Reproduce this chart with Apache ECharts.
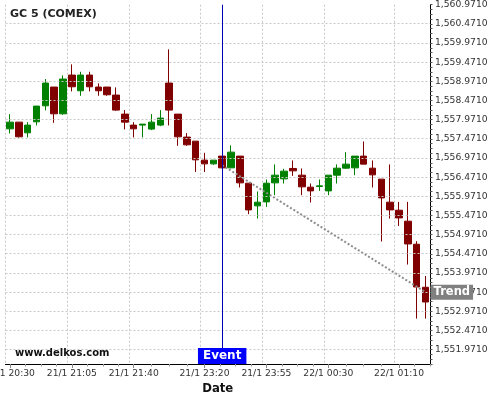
<!DOCTYPE html>
<html>
<head>
<meta charset="utf-8">
<script src="https://cdn.jsdelivr.net/npm/echarts@6/dist/echarts.min.js"></script>
<style>html,body{margin:0;padding:0;background:#fff}#c{width:500px;height:400px}</style>
</head>
<body>
<div id="c"></div>
<script>
// ---- data ----
const categories = [
  '21/1 20:30','21/1 20:35','21/1 20:40','21/1 20:45','21/1 20:50','21/1 20:55','21/1 21:00','21/1 21:05',
  '21/1 21:10','21/1 21:15','21/1 21:20','21/1 21:25','21/1 21:30','21/1 21:35','21/1 21:40','21/1 21:45',
  '21/1 21:50','21/1 21:55','21/1 23:00','21/1 23:05','21/1 23:10','21/1 23:15','21/1 23:20','21/1 23:25',
  '21/1 23:30','21/1 23:35','21/1 23:40','21/1 23:45','21/1 23:50','21/1 23:55','22/1 00:00','22/1 00:05',
  '22/1 00:10','22/1 00:15','22/1 00:20','22/1 00:25','22/1 00:30','22/1 00:35','22/1 00:40','22/1 00:45',
  '22/1 00:50','22/1 00:55','22/1 01:00','22/1 01:05','22/1 01:10','22/1 01:15','22/1 01:20','22/1 01:25'
];
const openV  = [1557.732,1557.907,1557.628,1557.915,1558.333,1558.822,1558.124,1559.135,1558.725,1559.135,1558.822,1558.822,1558.613,1558.116,1557.829,1557.829,1557.725,1557.829,1558.926,1558.116,1557.516,1557.411,1556.915,1556.818,1557.020,1556.714,1557.020,1556.314,1555.722,1555.826,1556.322,1556.427,1556.698,1556.523,1556.210,1556.228,1556.113,1556.523,1556.706,1556.714,1557.020,1556.706,1556.419,1555.818,1555.609,1555.322,1554.721,1553.598];
const closeV = [1557.907,1557.524,1557.829,1558.325,1558.926,1558.124,1559.031,1558.829,1559.135,1558.829,1558.725,1558.621,1558.221,1557.907,1557.732,1557.855,1557.907,1558.012,1558.221,1557.524,1557.315,1556.923,1556.818,1556.915,1556.714,1557.124,1556.322,1555.617,1555.818,1556.314,1556.523,1556.628,1556.636,1556.218,1556.113,1556.244,1556.523,1556.706,1556.811,1557.020,1556.811,1556.531,1555.930,1555.617,1555.408,1554.729,1553.606,1553.214];
const lowV   = [1557.612,1557.508,1557.508,1557.821,1558.213,1557.889,1558.098,1558.709,1558.594,1558.709,1558.594,1558.594,1558.203,1557.717,1557.508,1557.508,1557.698,1557.803,1557.821,1557.289,1557.289,1556.609,1556.609,1556.792,1556.706,1556.706,1556.202,1555.505,1555.392,1555.695,1556.001,1556.306,1556.505,1556.001,1555.810,1556.113,1556.001,1556.306,1556.688,1556.523,1556.811,1556.202,1554.792,1555.392,1555.199,1554.191,1552.781,1552.781];
const highV  = [1558.116,1557.907,1557.907,1558.325,1559.031,1558.822,1559.127,1559.414,1559.221,1559.221,1558.918,1558.822,1558.814,1558.221,1557.907,1557.855,1558.116,1558.221,1559.806,1558.116,1557.620,1557.411,1557.106,1556.915,1557.020,1557.299,1557.020,1556.314,1556.098,1556.411,1556.803,1556.688,1556.907,1556.698,1556.306,1556.411,1556.523,1556.803,1557.124,1557.020,1557.403,1556.907,1556.419,1556.803,1555.826,1555.826,1554.800,1553.893];

const xTickLabels = ['21/1 20:30','21/1 21:05','21/1 21:40','21/1 23:20','21/1 23:55','22/1 00:30','22/1 01:10'];
const yTickLabels = [1551.971,1552.471,1552.971,1553.471,1553.971,1554.471,1554.971,1555.471,1555.971,1556.471,1556.971,1557.471,1557.971,1558.471,1558.971,1559.471,1559.971,1560.471,1560.971];
const yGridValues = yTickLabels.slice(0, 18);
const yBottom = 1551.596;
const yTop = 1560.971;

const eventTime = '21/1 23:30';
const trendTimes = ['21/1 23:30','22/1 01:25'];
const trendValues = [1556.784, 1553.470];

// ---- build ----
const base = yBottom;
const candleData = categories.map((c, i) => [openV[i]-base, closeV[i]-base, lowV[i]-base, highV[i]-base]);
const trendData = categories.map(c => {
  const k = trendTimes.indexOf(c);
  return k >= 0 ? trendValues[k]-base : null;
});
const labelIdx = xTickLabels.map(l => categories.indexOf(l));
const xMinor = [];
for (let k = 0; k < labelIdx.length; k++) {
  const a = labelIdx[k];
  if (k < labelIdx.length - 1) {
    const b = labelIdx[k+1];
    for (let j = 1; j < 4; j++) xMinor.push(a + (b-a)*j/4);
  } else {
    for (let t = a + 1.75; t <= categories.length - 0.5; t += 1.75) xMinor.push(t);
  }
}
function fmtNum(v){
  const s = v.toFixed(4);
  return s.replace(/^(\d)(\d{3})/, '$1,$2');
}
const isLabel = (i, v) => xTickLabels.indexOf(v) >= 0;
const F = 'DejaVu Sans';
const chart = echarts.init(document.getElementById('c'), null, {renderer:'canvas'});
chart.setOption({
  animation: false,
  backgroundColor: '#fff',
  title: [
    {text:'GC 5 (COMEX)', left:10, top:9, padding:0, textStyle:{fontFamily:F, fontSize:11, fontWeight:'bold', color:'#222'}},
    {text:'www.delkos.com', left:15, top:348, padding:0, textStyle:{fontFamily:F, fontSize:10, fontWeight:'bold', color:'#111'}}
  ],
  grid: {left:5.5, right:70, top:4.7, bottom:36, containLabel:false, outerBoundsMode:'none'},
  xAxis: [{
    type:'category', data:categories, boundaryGap:true,
    name:'Date', nameLocation:'middle', nameGap:18,
    nameTextStyle:{fontFamily:F, fontSize:11.7, fontWeight:'bold', color:'#111'},
    axisLine:{onZero:false, lineStyle:{color:'#000', width:1}},
    axisTick:{show:true, alignWithLabel:true, length:4, interval:isLabel, lineStyle:{color:'#888'}},
    axisLabel:{interval:isLabel, fontFamily:F, fontSize:9.2, color:'#333', margin:5},
    splitLine:{show:true, interval:isLabel, lineStyle:{color:'#c8c8c8', type:[2,2], width:1}}
  },{
    type:'value', min:-0.5, max:categories.length-0.5, position:'bottom',
    axisLine:{show:false, onZero:false}, axisLabel:{show:false}, splitLine:{show:false},
    axisTick:{show:true, length:2.5, customValues:xMinor, lineStyle:{color:'#999'}}
  }],
  yAxis: {
    type:'value', position:'right', min:0, max:yTop-base, interval:0.125, scale:false,
    axisLine:{show:true, onZero:false, lineStyle:{color:'#000', width:1}},
    axisTick:{show:true, length:2.5, lineStyle:{color:'#555'}},
    axisLabel:{fontFamily:F, fontSize:9.2, color:'#333', margin:5,
      formatter: v => {
        const k = (v - (yTickLabels[0]-base)) / 0.5;
        return (Math.abs(k - Math.round(k)) < 1e-6 && k > -1e-6) ? fmtNum(v + base) : '';
      }},
    splitLine:{show:false}
  },
  series: [
    {
      type:'line', data:[], silent:true,
      markLine:{silent:true, symbol:'none', label:{show:false},
        lineStyle:{color:'#c8c8c8', type:[2,2], width:1},
        data: yGridValues.map(v => ({yAxis: v - base}))}
    },
    {
      type:'candlestick', data:candleData, barWidth:7,
      itemStyle:{color:'#008000', color0:'#800000', borderColor:'#008000', borderColor0:'#800000', borderWidth:1},
      markLine:{silent:true, symbol:'none', label:{show:false},
        lineStyle:{color:'#0000b0', type:'solid', width:1},
        data:[{xAxis:eventTime}]},
      markPoint:{silent:true, symbol:'circle', symbolSize:0,
        data:[{coord:[eventTime, 0], value:'Event'}],
        label:{show:true, position:'top', distance:0, formatter:'Event', color:'#fff',
          fontFamily:F, fontSize:12, fontWeight:'bold', backgroundColor:'#0000ff', padding:[1,5,1,5], lineHeight:14}}
    },
    {
      type:'line', data:trendData, connectNulls:true, symbol:'none', silent:true,
      lineStyle:{color:'#8c8c8c', width:2, type:[2,2]},
      endLabel:{show:true, formatter:'Trend', distance:5, color:'#fff', fontFamily:F, fontSize:11.5,
        fontWeight:'bold', backgroundColor:'#808080', padding:[1,3,1,3], lineHeight:13}
    }
  ]
});
</script>
</body>
</html>
